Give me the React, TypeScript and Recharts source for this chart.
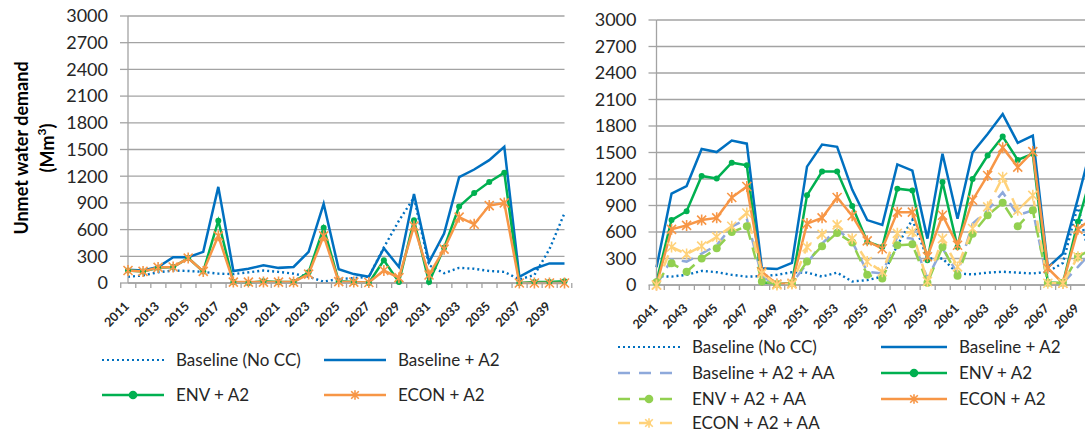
import { LineChart, Line, XAxis, YAxis, CartesianGrid } from "recharts";

const yTicks = [0, 300, 600, 900, 1200, 1500, 1800, 2100, 2400, 2700, 3000];

// Panel 1: 2011-2040
const years1 = [
  "2011", "2012", "2013", "2014", "2015", "2016", "2017", "2018", "2019", "2020",
  "2021", "2022", "2023", "2024", "2025", "2026", "2027", "2028", "2029", "2030",
  "2031", "2032", "2033", "2034", "2035", "2036", "2037", "2038", "2039", "2040",
];
const noCC1 = [70, 85, 120, 140, 135, 125, 105, 100, 120, 140, 125, 105, 70, 15, 45, 55, 70, 400, 700, 960, 200, 110, 170, 160, 135, 125, 40, 90, 380, 785];
const a2_1 = [150, 140, 180, 290, 290, 350, 1080, 135, 160, 200, 170, 180, 350, 890, 155, 100, 70, 390, 180, 1000, 235, 555, 1190, 1275, 1380, 1530, 70, 160, 220, 220];
const env1 = [140, 130, 170, 180, 280, 130, 700, 10, 0, 20, 10, 10, 120, 620, 20, 10, 0, 255, 10, 705, 10, 395, 860, 1010, 1135, 1240, 0, 10, 10, 20];
const econ1 = [140, 130, 175, 180, 280, 130, 530, 10, 10, 10, 10, 10, 100, 530, 15, 10, 5, 140, 60, 640, 90, 380, 740, 660, 870, 900, 0, 0, 0, 0];

// Panel 2: 2041-2070
const years2 = [
  "2041", "2042", "2043", "2044", "2045", "2046", "2047", "2048", "2049", "2050",
  "2051", "2052", "2053", "2054", "2055", "2056", "2057", "2058", "2059", "2060",
  "2061", "2062", "2063", "2064", "2065", "2066", "2067", "2068", "2069", "2070",
];
const noCC2 = [100, 95, 115, 160, 145, 115, 95, 100, 115, 145, 140, 95, 140, 40, 55, 95, 450, 740, 300, 300, 130, 120, 140, 150, 140, 130, 150, 250, 900, 140];
const a2_2 = [200, 1035, 1120, 1540, 1505, 1635, 1600, 190, 180, 250, 1340, 1590, 1565, 1080, 735, 680, 1365, 1295, 525, 1485, 750, 1500, 1710, 1935, 1610, 1690, 200, 355, 980, 1640];
const a2aa2 = [0, 290, 265, 355, 450, 660, 750, 95, 0, 20, 245, 470, 630, 490, 150, 130, 545, 525, 75, 415, 130, 695, 845, 1050, 790, 845, 25, 20, 205, 395];
const env2 = [40, 735, 835, 1235, 1205, 1385, 1355, 30, 10, 20, 1015, 1285, 1285, 895, 490, 430, 1090, 1070, 280, 1165, 430, 1200, 1465, 1680, 1415, 1485, 25, 20, 715, 1305];
const envAA2 = [30, 245, 150, 300, 415, 600, 665, 40, 10, 20, 265, 440, 590, 480, 115, 75, 450, 460, 25, 430, 105, 580, 790, 930, 665, 845, 25, 25, 320, 415];
const econ2 = [0, 630, 675, 735, 760, 990, 1115, 150, 10, 20, 695, 760, 990, 785, 500, 410, 825, 825, 320, 790, 450, 960, 1240, 1555, 1335, 1510, 190, 20, 630, 765];
const econAA2 = [0, 430, 350, 440, 545, 665, 815, 130, 0, 10, 430, 575, 680, 525, 265, 150, 585, 600, 40, 525, 205, 640, 885, 1220, 845, 1015, 20, 20, 320, 430];

const data1 = years1.map((year, i) => ({ year, noCC: noCC1[i], a2: a2_1[i], env: env1[i], econ: econ1[i] }));
const data2 = years2.map((year, i) => ({
  year,
  noCC: noCC2[i],
  a2: a2_2[i],
  a2aa: a2aa2[i],
  env: env2[i],
  envAA: envAA2[i],
  econ: econ2[i],
  econAA: econAA2[i],
}));

const BLUE = "#0070C0";
const LIGHT_BLUE = "#8EA9DB";
const GREEN = "#00B050";
const LIGHT_GREEN = "#92D050";
const ORANGE = "#F79646";
const LIGHT_ORANGE = "#FFD27A";
const GRID = "#A3A3A3";
const FONT = "Lato, 'Open Sans', sans-serif";

const PLOT_W = 436.5;
const BAND = PLOT_W / 30;

function StarDot({ cx, cy, stroke, size = 4.5 }: any) {
  if (cx == null || cy == null) return null;
  const s = size;
  return (
    <path
      d={`M${cx - s},${cy - s}L${cx + s},${cy + s}M${cx - s},${cy + s}L${cx + s},${cy - s}M${cx},${cy - s - 1}L${cx},${cy + s + 1}`}
      stroke={stroke}
      strokeWidth={1.6}
      fill="none"
    />
  );
}

function CircleDot({ cx, cy, fill, r = 4.3 }: any) {
  if (cx == null || cy == null) return null;
  return <circle cx={cx} cy={cy} r={r} fill={fill} stroke="none" />;
}

function YearTick({ x, y, payload, count }: any) {
  const idx = payload.index;
  const left = x - BAND / 2;
  const tx = x + 2;
  const ty = y + 24;
  return (
    <g>
      <line x1={left} y1={y} x2={left} y2={y + 5} stroke={GRID} strokeWidth={1.3} />
      {idx === count - 1 && (
        <line x1={x + BAND / 2} y1={y} x2={x + BAND / 2} y2={y + 5} stroke={GRID} strokeWidth={1.3} />
      )}
      {idx % 2 === 0 && (
        <text
          x={tx}
          y={ty}
          transform={`rotate(-45, ${tx}, ${ty})`}
          textAnchor="end"
          fontSize={12.5}
          fontWeight={700}
          fill="#262626"
          fontFamily={FONT}
        >
          {payload.value}
        </text>
      )}
    </g>
  );
}

function commonAxes(yWidth: number, xHeight: number) {
  return [
    <CartesianGrid key="g" vertical={false} stroke={GRID} strokeWidth={1.3} />,
    <XAxis
      key="x"
      dataKey="year"
      interval={0}
      tickSize={0}
      tickMargin={0}
      tickLine={false}
      axisLine={{ stroke: GRID, strokeWidth: 1.3 }}
      height={xHeight}
      tick={<YearTick count={30} />}
    />,
    <YAxis
      key="y"
      domain={[0, 3000]}
      ticks={yTicks}
      interval={0}
      width={yWidth}
      tickSize={8}
      tickMargin={12}
      tickLine={{ stroke: GRID, strokeWidth: 1.3 }}
      axisLine={{ stroke: GRID, strokeWidth: 1.3 }}
      tick={{ fontSize: 18, fill: "#262626", fontFamily: FONT }}
    />,
  ];
}

type LegendSpec = {
  x: number;
  y: number;
  label: string;
  color: string;
  dash?: string;
  marker?: "circle" | "star";
  width?: number;
};

function LegendEntry({ x, y, label, color, dash, marker, width = 64 }: LegendSpec) {
  const mid = width / 2;
  return (
    <div style={{ position: "absolute", left: x, top: y - 8, height: 16, display: "flex", alignItems: "center" }}>
      <svg width={width} height={16} style={{ marginRight: 11 }}>
        <line
          x1={1}
          y1={8}
          x2={width - 1}
          y2={8}
          stroke={color}
          strokeWidth={dash === "2 3" ? 2.2 : 2.6}
          strokeDasharray={dash}
        />
        {marker === "circle" && <circle cx={mid} cy={8} r={4.3} fill={color} />}
        {marker === "star" && <StarDot cx={mid} cy={8} stroke={color} size={3.8} />}
      </svg>
      <span style={{ fontSize: 17, lineHeight: "16px", color: "#262626", fontFamily: FONT, whiteSpace: "nowrap" }}>
        {label}
      </span>
    </div>
  );
}

const legend1: LegendSpec[] = [
  { x: 101, y: 360, label: "Baseline (No CC)", color: BLUE, dash: "2 3" },
  { x: 323, y: 360, label: "Baseline + A2", color: BLUE },
  { x: 101, y: 395, label: "ENV + A2", color: GREEN, marker: "circle" },
  { x: 323, y: 395, label: "ECON + A2", color: ORANGE, marker: "star" },
];

const legend2: LegendSpec[] = [
  { x: 617, y: 347, label: "Baseline (No CC)", color: BLUE, dash: "2 3" },
  { x: 880, y: 347, label: "Baseline + A2", color: BLUE, width: 68 },
  { x: 617, y: 373, label: "Baseline + A2 + AA", color: LIGHT_BLUE, dash: "12 9" },
  { x: 880, y: 373, label: "ENV + A2", color: GREEN, marker: "circle", width: 68 },
  { x: 617, y: 399, label: "ENV + A2 + AA", color: LIGHT_GREEN, dash: "12 9", marker: "circle" },
  { x: 880, y: 399, label: "ECON + A2", color: ORANGE, marker: "star", width: 68 },
  { x: 617, y: 423, label: "ECON + A2 + AA", color: LIGHT_ORANGE, dash: "12 9", marker: "star" },
];

export default function App() {
  return (
    <div
      style={{
        position: "absolute",
        left: 0,
        top: 0,
        width: 1085,
        height: 432,
        overflow: "hidden",
        background: "#fff",
        fontFamily: FONT,
      }}
    >
      <svg width={70} height={300} style={{ position: "absolute", left: 0, top: 0 }}>
        <text
          x={21}
          y={148}
          transform="rotate(-90, 21, 148)"
          textAnchor="middle"
          dominantBaseline="central"
          fontSize={18}
          fontWeight={700}
          fill="#000"
          fontFamily={FONT}
        >
          Unmet water demand
        </text>
        <text
          x={47}
          y={148}
          transform="rotate(-90, 47, 148)"
          textAnchor="middle"
          dominantBaseline="central"
          fontSize={18}
          fontWeight={700}
          fill="#000"
          fontFamily={FONT}
        >
          (Mm<tspan dy={-6} fontSize={12}>3</tspan>
          <tspan dy={6}>)</tspan>
        </text>
      </svg>

      <div style={{ position: "absolute", left: 0, top: 0 }}>
        <LineChart width={575} height={340} data={data1} margin={{ top: 16, right: 575 - 128 - PLOT_W, left: 0, bottom: 0 }}>
          {commonAxes(128, 57)}
          <Line dataKey="noCC" stroke={BLUE} strokeWidth={2.4} strokeDasharray="2 3" dot={false} isAnimationActive={false} />
          <Line dataKey="a2" stroke={BLUE} strokeWidth={2.5} dot={false} isAnimationActive={false} />
          <Line dataKey="env" stroke={GREEN} strokeWidth={2.5} dot={<CircleDot fill={GREEN} />} isAnimationActive={false} />
          <Line dataKey="econ" stroke={ORANGE} strokeWidth={2.5} dot={<StarDot stroke={ORANGE} />} isAnimationActive={false} />
        </LineChart>
      </div>

      <div style={{ position: "absolute", left: 580, top: 0 }}>
        <LineChart width={520} height={340} data={data2} margin={{ top: 20, right: 520 - 76.5 - PLOT_W, left: 0, bottom: 0 }}>
          {commonAxes(76.5, 55)}
          <Line dataKey="noCC" stroke={BLUE} strokeWidth={2.4} strokeDasharray="2 3" dot={false} isAnimationActive={false} />
          <Line dataKey="a2" stroke={BLUE} strokeWidth={2.5} dot={false} isAnimationActive={false} />
          <Line dataKey="a2aa" stroke={LIGHT_BLUE} strokeWidth={2.5} strokeDasharray="12 8" dot={false} isAnimationActive={false} />
          <Line dataKey="env" stroke={GREEN} strokeWidth={2.5} dot={<CircleDot fill={GREEN} />} isAnimationActive={false} />
          <Line dataKey="envAA" stroke={LIGHT_GREEN} strokeWidth={2.5} strokeDasharray="12 8" dot={<CircleDot fill={LIGHT_GREEN} r={4} />} isAnimationActive={false} />
          <Line dataKey="econ" stroke={ORANGE} strokeWidth={2.5} dot={<StarDot stroke={ORANGE} />} isAnimationActive={false} />
          <Line dataKey="econAA" stroke={LIGHT_ORANGE} strokeWidth={2.5} strokeDasharray="12 8" dot={<StarDot stroke={LIGHT_ORANGE} />} isAnimationActive={false} />
        </LineChart>
      </div>

      {legend1.map((l) => (
        <LegendEntry key={"a" + l.label} {...l} />
      ))}
      {legend2.map((l) => (
        <LegendEntry key={"b" + l.label} {...l} />
      ))}
    </div>
  );
}
